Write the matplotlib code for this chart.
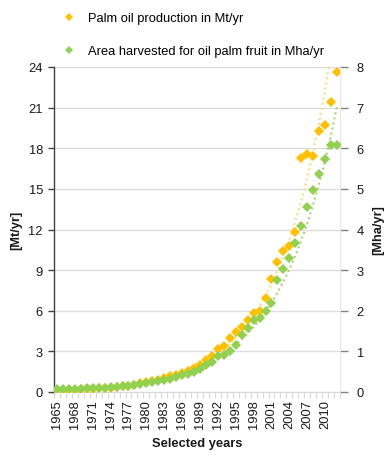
import numpy as np
import matplotlib
matplotlib.use("Agg")
import matplotlib.pyplot as plt
from matplotlib.lines import Line2D

plt.rcParams['font.family'] = ['Liberation Sans', 'DejaVu Sans']

years = list(range(1965, 2013))
palm_oil_mt = [0.15, 0.16, 0.17, 0.18, 0.20, 0.22, 0.24, 0.27, 0.30, 0.33,
               0.38, 0.42, 0.47, 0.55, 0.63, 0.72, 0.80, 0.92, 1.02, 1.18,
               1.28, 1.42, 1.58, 1.75, 1.98, 2.38, 2.63, 3.18, 3.37, 3.99,
               4.41, 4.82, 5.34, 5.83, 5.98, 6.94, 8.35, 9.58, 10.4, 10.8,
               11.85, 17.3, 17.6, 17.45, 19.3, 19.75, 21.4, 23.65]
area_left_scale = [0.20, 0.21, 0.22, 0.23, 0.25, 0.26, 0.28, 0.30, 0.32, 0.35,
                   0.38, 0.42, 0.46, 0.52, 0.58, 0.65, 0.72, 0.80, 0.88, 0.98,
                   1.10, 1.22, 1.35, 1.50, 1.70, 1.98, 2.25, 2.65, 2.73, 3.05,
                   3.49, 4.21, 4.75, 5.34, 5.46, 5.96, 6.55, 8.30, 9.06, 9.90,
                   11.0, 12.28, 13.64, 14.9, 16.08, 17.2, 18.24, 18.24]
area_mha = [v / 3.0 for v in area_left_scale]

left_ticks = [0, 3, 6, 9, 12, 15, 18, 21, 24]
right_ticks = [0, 1, 2, 3, 4, 5, 6, 7, 8]
label_years = years[::3]

ORANGE = '#FFC000'
GREEN = '#92D050'
ORANGE_T = '#FFD966'
GREEN_T = '#9BD45E'
TXT = '#1a1a1a'
FS = 9.3

fig = plt.figure(figsize=(3.9, 4.56), dpi=100)
ax = fig.add_axes([54/390, 1-393/456, (340-54)/390, (393-68)/456])
ax2 = ax.twinx()

x = np.arange(len(years))
xi = x + 1.0

def expfit(vals):
    b, a = np.polyfit(xi, np.log(vals), 1)
    xs = np.linspace(xi[0], xi[-1], 300)
    return xs - 1.0, np.exp(a + b * xs)

tx, ty = expfit(np.array(palm_oil_mt))
ax.plot(tx, ty, ':', color=ORANGE_T, lw=1.4, zorder=2)
ax.plot(x, palm_oil_mt, 'D', color=ORANGE, ms=4.8, mew=0, zorder=3)

gx, gy = expfit(np.array(area_mha))
ax2.plot(gx, gy, ':', color=GREEN_T, lw=1.4, zorder=2)
ax2.plot(x, area_mha, 'D', color=GREEN, ms=4.8, mew=0, zorder=3)

ax.set_xlim(-0.5, len(years) - 0.5)
ax.set_ylim(0, 24)
ax2.set_ylim(0, 8)
ax.set_yticks(left_ticks)
ax2.set_yticks(right_ticks)
ax.set_yticklabels([str(t) for t in left_ticks], fontsize=FS, color=TXT)
ax2.set_yticklabels([str(t) for t in right_ticks], fontsize=FS, color=TXT)

ax.set_xticks([years.index(y) for y in label_years])
ax.set_xticklabels([str(y) for y in label_years], rotation=90, fontsize=FS, color=TXT)
ax.tick_params(axis='x', length=0, pad=5)
ax.set_xticks(np.arange(-0.5, len(years), 1.0), minor=True)
ax.tick_params(axis='x', which='minor', length=4, color='#D9D9D9', width=0.8)

ax.grid(axis='y', color='#DDDDDD', lw=1.0)
ax.set_axisbelow(True)
ax.tick_params(axis='y', length=4, color='#404040', width=1, pad=4)
ax2.tick_params(axis='y', length=6, color='#808080', width=1, pad=6)

ax.spines['top'].set_visible(False)
ax2.spines['top'].set_visible(False)
ax.spines['right'].set_visible(False)
ax2.spines['left'].set_visible(False)
ax2.spines['bottom'].set_visible(False)
ax.spines['left'].set_color('#404040')
ax.spines['left'].set_linewidth(1.0)
ax.spines['bottom'].set_color('#D9D9D9')
ax2.spines['right'].set_color('#E6E6E6')

ax.set_ylabel('[Mt/yr]', fontsize=FS, fontweight='bold', color=TXT)
ax.yaxis.set_label_coords((22 - 54) / 286, 0.5)
ax2.set_ylabel('[Mha/yr]', fontsize=FS, fontweight='bold', color=TXT)
ax2.yaxis.set_label_coords((372 - 54) / 286, 0.5)
ax.set_xlabel('Selected years', fontsize=FS, fontweight='bold', color=TXT, labelpad=6.5)

handles = [Line2D([], [], ls='none', marker='D', color=ORANGE, ms=4.2, mew=0),
           Line2D([], [], ls='none', marker='D', color=GREEN, ms=4.2, mew=0)]
fig.legend(handles, ['Palm oil production in Mt/yr',
                     'Area harvested for oil palm fruit in Mha/yr'],
           loc='upper left', bbox_to_anchor=(63/390, 1-13/456), frameon=False,
           fontsize=FS, labelspacing=1.65, handlelength=1.0, handletextpad=0.95,
           borderaxespad=0, borderpad=0)

fig.savefig('out.png', dpi=100)
